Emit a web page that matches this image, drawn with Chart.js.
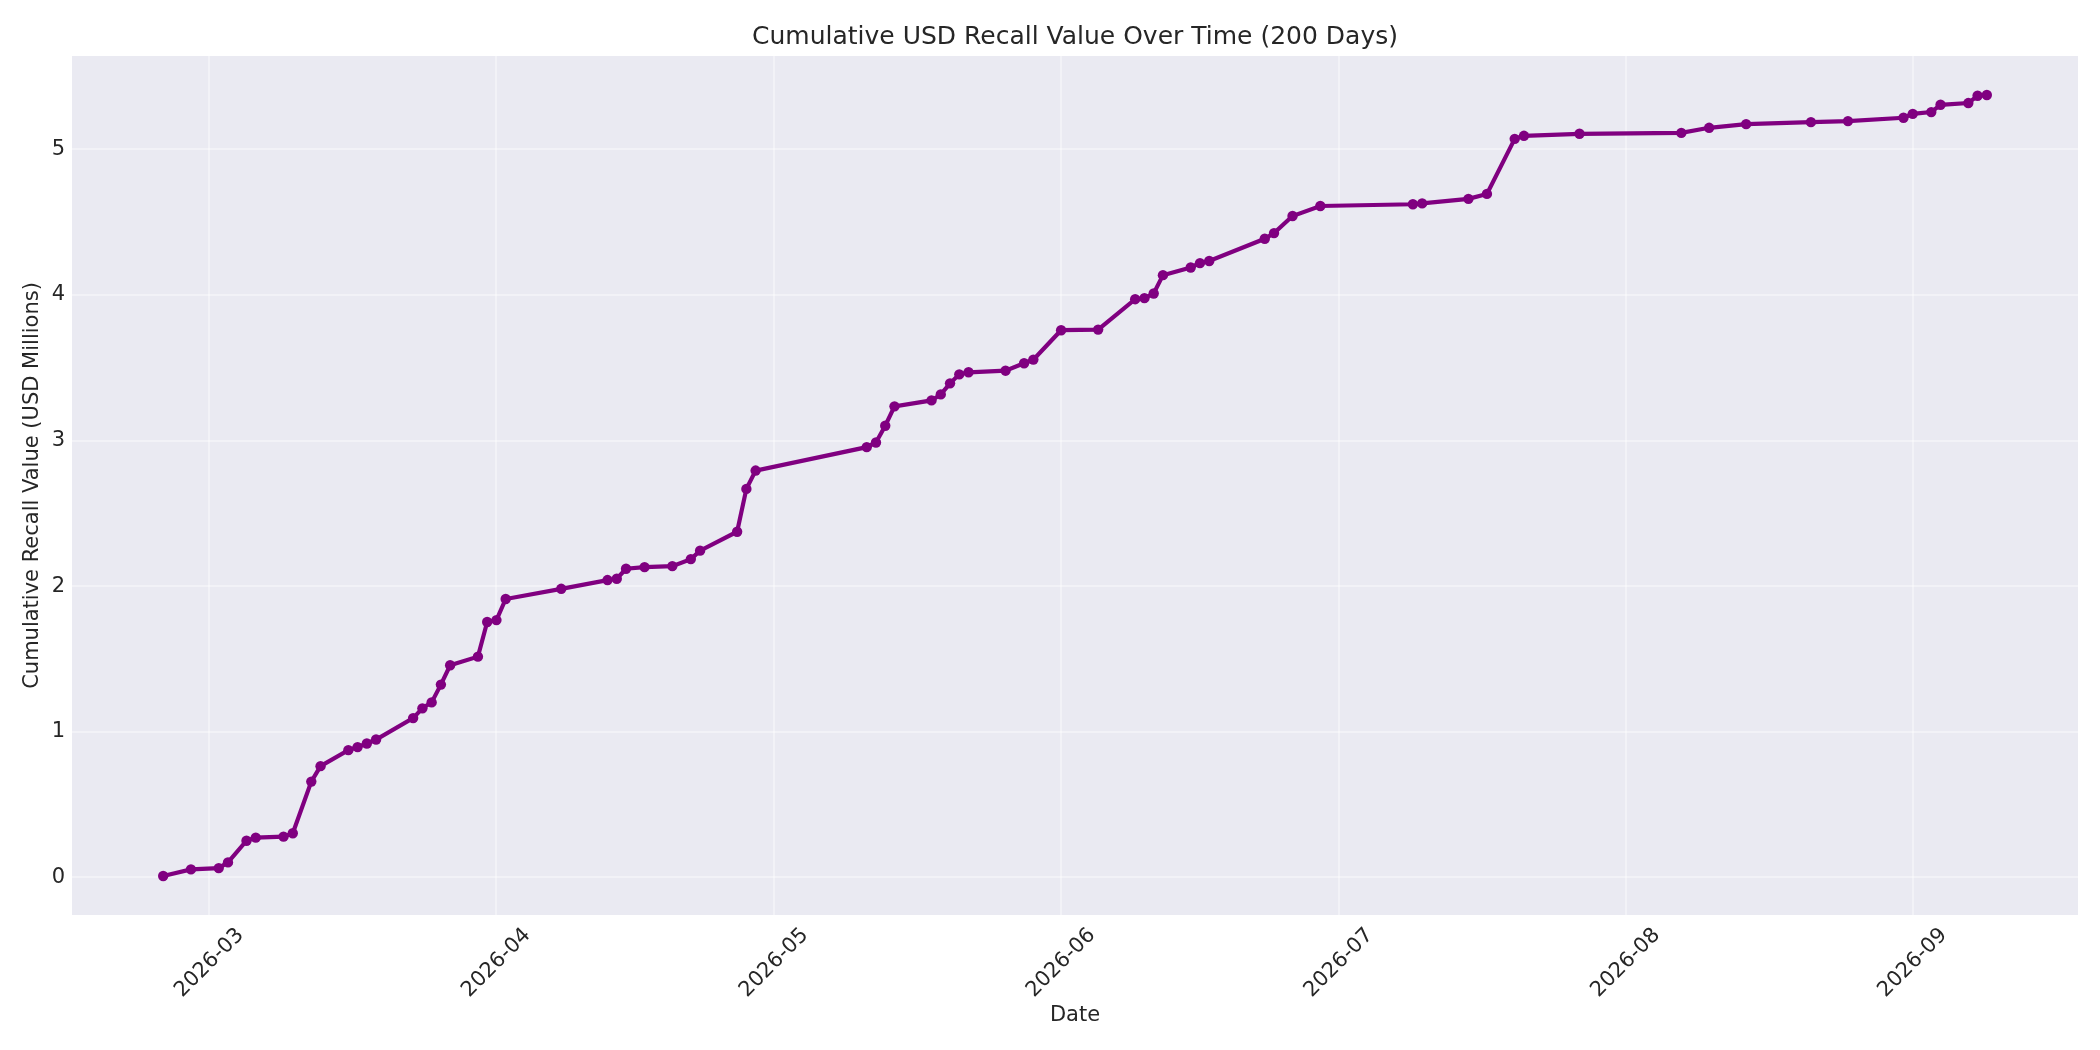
<!DOCTYPE html>
<html>
<head>
<meta charset="utf-8">
<title>Cumulative USD Recall Value Over Time</title>
<script src="https://cdn.jsdelivr.net/npm/chart.js@4.4.1/dist/chart.umd.min.js"></script>
<style>
  html, body { margin: 0; padding: 0; background: #ffffff; }
  #wrap { width: 2100px; height: 1050px; }
</style>
</head>
<body>
<div id="wrap"><canvas id="myChart" width="2100" height="1050"></canvas></div>
<script>
const dates = [
    '2026-02-24', '2026-02-27', '2026-03-02', '2026-03-03', '2026-03-05', '2026-03-06',
    '2026-03-09', '2026-03-10', '2026-03-12', '2026-03-13', '2026-03-16', '2026-03-17',
    '2026-03-18', '2026-03-19', '2026-03-23', '2026-03-24', '2026-03-25', '2026-03-26',
    '2026-03-27', '2026-03-30', '2026-03-31', '2026-04-01', '2026-04-02',
    '2026-04-08', '2026-04-13', '2026-04-14', '2026-04-15', '2026-04-17', '2026-04-20',
    '2026-04-22', '2026-04-23', '2026-04-27', '2026-04-28', '2026-04-29',
    '2026-05-11', '2026-05-12', '2026-05-13', '2026-05-14', '2026-05-18', '2026-05-19',
    '2026-05-20', '2026-05-21', '2026-05-22', '2026-05-26', '2026-05-28', '2026-05-29',
    '2026-06-01', '2026-06-05', '2026-06-09', '2026-06-10', '2026-06-11', '2026-06-12',
    '2026-06-15', '2026-06-16', '2026-06-17', '2026-06-23', '2026-06-24', '2026-06-26',
    '2026-06-29',
    '2026-07-09', '2026-07-10', '2026-07-15', '2026-07-17', '2026-07-20', '2026-07-21',
    '2026-07-27',
    '2026-08-07', '2026-08-10', '2026-08-14', '2026-08-21', '2026-08-25', '2026-08-31',
    '2026-09-01', '2026-09-03', '2026-09-04', '2026-09-07', '2026-09-08', '2026-09-09'
];

// cumulative value, USD millions
const cumulativeValues = [
    0.01, 0.055, 0.064, 0.103, 0.252, 0.273,
    0.280, 0.303, 0.658, 0.764, 0.874, 0.895,
    0.920, 0.947, 1.094, 1.161, 1.202, 1.324,
    1.457, 1.516, 1.754, 1.767, 1.912,
    1.982, 2.042, 2.051, 2.120, 2.131, 2.138,
    2.186, 2.244, 2.374, 2.668, 2.794,
    2.955, 2.987, 3.102, 3.235, 3.276, 3.317,
    3.393, 3.455, 3.469, 3.480, 3.531, 3.556,
    3.758, 3.762, 3.971, 3.978, 4.010, 4.136,
    4.189, 4.219, 4.233, 4.386, 4.425, 4.542,
    4.611,
    4.623, 4.629, 4.660, 4.694, 5.072, 5.093,
    5.107,
    5.113, 5.148, 5.173, 5.187, 5.194, 5.217,
    5.244, 5.256, 5.306, 5.318, 5.368, 5.373
];

const monthTicks = ['2026-03-01', '2026-04-01', '2026-05-01', '2026-06-01', '2026-07-01', '2026-08-01', '2026-09-01'];
const tickLabels = ['2026-03', '2026-04', '2026-05', '2026-06', '2026-07', '2026-08', '2026-09'];
const yTicks = [0, 1, 2, 3, 4, 5];

const DAY = 86400000;
const toDay = d => (Date.parse(d) - Date.parse('2026-01-01')) / DAY;

const points = dates.map((d, i) => ({ x: toDay(d), y: cumulativeValues[i] }));

// matplotlib style 5% margins
const xFirst = toDay(dates[0]);
const xLast = toDay(dates[dates.length - 1]);
const xPad = (xLast - xFirst) * 0.05;
const yLow = Math.min(...cumulativeValues);
const yHigh = Math.max(...cumulativeValues);
const yPad = (yHigh - yLow) * 0.05;

const FONT = "'DejaVu Sans', 'Liberation Sans', sans-serif";
const TEXT = '#262626';
const GRID = 'rgba(255,255,255,0.38)';

const plotBackground = {
    id: 'plotBackground',
    beforeDraw(chart) {
        const { ctx, chartArea } = chart;
        ctx.save();
        ctx.fillStyle = '#eaeaf2';
        ctx.fillRect(chartArea.left, chartArea.top, chartArea.right - chartArea.left, chartArea.bottom - chartArea.top);
        ctx.restore();
    }
};

let ctx = document.getElementById('myChart').getContext('2d');

new Chart(ctx, {
    type: 'line',
    data: {
        datasets: [{
            label: 'Cumulative Recall Value',
            data: points,
            borderColor: '#800080',
            backgroundColor: '#800080',
            borderWidth: 4.2,
            pointRadius: 5.2,
            pointBorderWidth: 0,
            pointBackgroundColor: '#800080',
            tension: 0,
            fill: false
        }]
    },
    options: {
        responsive: false,
        devicePixelRatio: 1,
        animation: false,
        layout: { padding: { left: 0, right: 22, top: 0, bottom: 0 } },
        plugins: {
            legend: { display: false },
            tooltip: { enabled: false },
            title: {
                display: true,
                fullSize: false,
                text: 'Cumulative USD Recall Value Over Time (200 Days)',
                color: TEXT,
                font: { family: FONT, size: 25, weight: 'normal', lineHeight: 1.2 },
                padding: { top: 22, bottom: 4 }
            }
        },
        scales: {
            x: {
                type: 'linear',
                min: xFirst - xPad,
                max: xLast + xPad,
                afterBuildTicks: scale => {
                    scale.ticks = monthTicks.map(d => ({ value: toDay(d) }));
                },
                afterFit: scale => { scale.height = 135; },
                ticks: {
                    callback: (value, index) => tickLabels[index],
                    color: TEXT,
                    font: { family: FONT, size: 21 },
                    maxRotation: 45,
                    minRotation: 45,
                    labelOffset: 31,
                    padding: 8,
                    autoSkip: false
                },
                grid: { color: GRID, lineWidth: 2, drawTicks: false },
                border: { display: false },
                title: {
                    display: true,
                    text: 'Date',
                    color: TEXT,
                    font: { family: FONT, size: 21 },
                    padding: { top: 22, bottom: 22 }
                }
            },
            y: {
                min: yLow - yPad,
                max: yHigh + yPad,
                afterBuildTicks: scale => {
                    scale.ticks = yTicks.map(v => ({ value: v }));
                },
                afterFit: scale => { scale.width = 72; },
                ticks: {
                    color: TEXT,
                    font: { family: FONT, size: 21 },
                    padding: 7
                },
                grid: { color: GRID, lineWidth: 2, drawTicks: false },
                border: { display: false },
                title: {
                    display: true,
                    text: 'Cumulative Recall Value (USD Millions)',
                    color: TEXT,
                    font: { family: FONT, size: 21 },
                    padding: { top: 20, bottom: 20 }
                }
            }
        }
    },
    plugins: [plotBackground]
});
</script>
</body>
</html>
